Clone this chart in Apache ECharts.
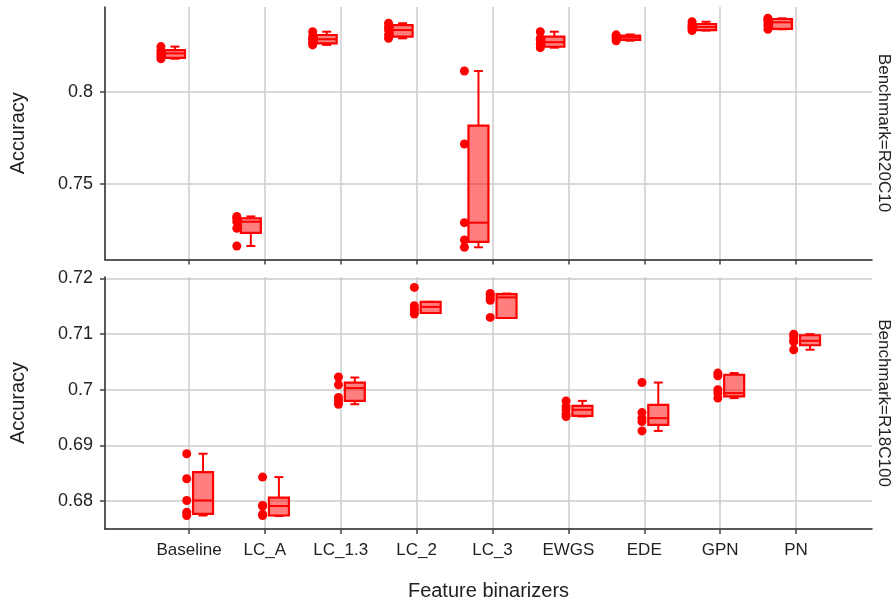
<!DOCTYPE html>
<html>
<head>
<meta charset="utf-8">
<script src="https://cdn.jsdelivr.net/npm/echarts@6/dist/echarts.min.js"></script>
<style>
html,body{margin:0;padding:0;background:#fff;}
#chart{width:896px;height:603px;}
</style>
</head>
<body>
<div id="chart"></div>
<script>
const categories = ['Baseline', 'LC_A', 'LC_1.3', 'LC_2', 'LC_3', 'EWGS', 'EDE', 'GPN', 'PN'];
const panelLabels = ['Benchmark=R20C10', 'Benchmark=R18C100'];
const xTitle = 'Feature binarizers';
const yTitle = 'Accuracy';
const yTicksTop = [0.75, 0.8];
const yTicksBottom = [0.68, 0.69, 0.7, 0.71, 0.72];

// R20C10 per-fold accuracies (points)
const r20c10Points = [
  [0.8246, 0.8225, 0.8209, 0.8195, 0.8180],
  [0.7322, 0.7310, 0.7293, 0.7257, 0.7161],
  [0.8327, 0.8300, 0.8286, 0.8270, 0.8255],
  [0.8373, 0.8352, 0.8336, 0.8310, 0.8291],
  [0.8113, 0.7716, 0.7288, 0.7194, 0.7154],
  [0.8327, 0.8290, 0.8282, 0.8260, 0.8240],
  [0.8310, 0.8302, 0.8296, 0.8287, 0.8278],
  [0.8381, 0.8365, 0.8355, 0.8345, 0.8333],
  [0.8400, 0.8392, 0.8380, 0.8362, 0.8340]
];
// R20C10 box stats: [min, q1, median, q3, max]
const r20c10Box = [
  [0.8180, 0.8185, 0.8209, 0.8227, 0.8246],
  [0.7161, 0.7233, 0.7293, 0.7312, 0.7322],
  [0.8255, 0.8264, 0.8286, 0.8309, 0.8327],
  [0.8291, 0.8300, 0.8336, 0.8363, 0.8373],
  [0.7154, 0.7184, 0.7288, 0.7816, 0.8113],
  [0.8240, 0.8245, 0.8270, 0.8300, 0.8327],
  [0.8278, 0.8283, 0.8296, 0.8306, 0.8312],
  [0.8333, 0.8336, 0.8353, 0.8369, 0.8381],
  [0.8340, 0.8342, 0.8378, 0.8396, 0.8400]
];
// R18C100 per-fold accuracies (points)
const r18c100Points = [
  [0.6885, 0.6840, 0.6801, 0.6780, 0.6774],
  [0.6843, 0.6792, 0.6791, 0.6776, 0.6774],
  [0.7023, 0.7009, 0.6986, 0.6980, 0.6974],
  [0.7184, 0.7151, 0.7145, 0.7142, 0.7136],
  [0.7173, 0.7171, 0.7166, 0.7161, 0.7130],
  [0.6980, 0.6970, 0.6964, 0.6956, 0.6952],
  [0.7013, 0.6959, 0.6949, 0.6943, 0.6926],
  [0.7030, 0.7025, 0.7000, 0.6994, 0.6985],
  [0.7100, 0.7096, 0.7089, 0.7086, 0.7072]
];
// R18C100 box stats: [min, q1, median, q3, max]
const r18c100Box = [
  [0.6774, 0.6777, 0.6801, 0.6852, 0.6885],
  [0.6773, 0.6774, 0.6791, 0.6806, 0.6843],
  [0.6974, 0.6980, 0.7003, 0.7013, 0.7022],
  [0.7138, 0.7138, 0.7149, 0.7158, 0.7158],
  [0.7129, 0.7129, 0.7166, 0.7172, 0.7173],
  [0.6952, 0.6953, 0.6964, 0.6971, 0.6980],
  [0.6926, 0.6937, 0.6949, 0.6973, 0.7013],
  [0.6985, 0.6988, 0.6994, 0.7027, 0.7030],
  [0.7072, 0.7080, 0.7088, 0.7098, 0.7100]
];

const FONT = "'Liberation Sans', Arial, sans-serif";
const TXT = '#222';
const RED = '#ff0000';
const catIdx = categories.map((c, i) => i);

// layout offsets (in category units) of points and boxes, per panel
const layoutTop = { pt: -0.37, box: -0.185 };
const layoutBottom = { pt: -0.03, box: 0.185 };

function pointsData(arr, off) {
  const out = [];
  arr.forEach((vals, i) => vals.forEach(v => out.push([i + off, v])));
  return out;
}
function boxData(arr, off) {
  return arr.map((s, i) => [i + off].concat(s));
}

function renderBox(params, api) {
  const x = api.value(0);
  const pMin = api.coord([x, api.value(1)]);
  const pQ1 = api.coord([x, api.value(2)]);
  const pMed = api.coord([x, api.value(3)]);
  const pQ3 = api.coord([x, api.value(4)]);
  const pMax = api.coord([x, api.value(5)]);
  const cx = pMed[0];
  const half = 10, cap = 4.5;
  const ls = { stroke: RED, lineWidth: 2 };
  return {
    type: 'group',
    children: [
      { type: 'line', shape: { x1: cx, y1: pMin[1], x2: cx, y2: pQ1[1] }, style: ls },
      { type: 'line', shape: { x1: cx, y1: pQ3[1], x2: cx, y2: pMax[1] }, style: ls },
      { type: 'line', shape: { x1: cx - cap, y1: pMin[1], x2: cx + cap, y2: pMin[1] }, style: ls },
      { type: 'line', shape: { x1: cx - cap, y1: pMax[1], x2: cx + cap, y2: pMax[1] }, style: ls },
      { type: 'rect', shape: { x: cx - half, y: pQ3[1], width: 2 * half, height: pQ1[1] - pQ3[1] },
        style: { fill: 'rgba(255,0,0,0.5)', stroke: RED, lineWidth: 2.2 } },
      { type: 'line', shape: { x1: cx - half, y1: pMed[1], x2: cx + half, y2: pMed[1] }, style: ls }
    ]
  };
}

// pixel geometry: category centers at 189 .. 796, plot from 105 to 872
const X0 = 189, STEP = (796 - 189) / 8;
const xMin = (105 - X0) / STEP, xMax = (872 - X0) / STEP;

function xAxisCfg(gridIndex, showLabels) {
  return {
    type: 'value', gridIndex, min: xMin, max: xMax,
    axisLine: { show: true, onZero: false, lineStyle: { color: '#222', width: 1.5 } },
    axisTick: { show: true, customValues: catIdx, length: 5, lineStyle: { color: '#444', width: 1.5 } },
    axisLabel: {
      show: showLabels, customValues: catIdx, margin: 13,
      formatter: v => categories[Math.round(v)] || '',
      fontFamily: FONT, fontSize: 17, color: TXT
    },
    splitLine: { show: true, lineStyle: { color: '#cccccc', width: 1.5 } },
    name: showLabels ? xTitle : '', nameLocation: 'middle', nameGap: 52,
    nameTextStyle: { fontFamily: FONT, fontSize: 20, color: TXT }
  };
}
function yAxisCfg(gridIndex, min, max, ticks) {
  return {
    type: 'value', gridIndex, min, max,
    axisLine: { show: true, onZero: false, lineStyle: { color: '#222', width: 1.5 } },
    axisTick: { show: true, customValues: ticks, length: 5, lineStyle: { color: '#444', width: 1.5 } },
    axisLabel: { customValues: ticks, margin: 12, fontFamily: FONT, fontSize: 18, color: TXT },
    splitLine: { show: true, lineStyle: { color: '#cccccc', width: 1.5 } },
    name: yTitle, nameLocation: 'middle', nameGap: 77,
    nameTextStyle: { fontFamily: FONT, fontSize: 20, color: TXT }
  };
}

const chart = echarts.init(document.getElementById('chart'), null, { renderer: 'canvas' });
chart.setOption({
  backgroundColor: '#fff',
  animation: false,
  grid: [
    { left: 105, right: 24, top: 7, height: 252.5, outerBoundsMode: 'none' },
    { left: 105, right: 24, top: 277, height: 252, outerBoundsMode: 'none' }
  ],
  xAxis: [xAxisCfg(0, false), xAxisCfg(1, true)],
  yAxis: [
    yAxisCfg(0, 0.70876, 0.84614, yTicksTop),
    yAxisCfg(1, 0.67497, 0.72027, yTicksBottom)
  ],
  graphic: [
    { type: 'text', x: 884, y: 133, rotation: -Math.PI / 2,
      style: { text: panelLabels[0], font: '17px ' + FONT, fill: TXT, align: 'center', verticalAlign: 'middle' } },
    { type: 'text', x: 884, y: 403, rotation: -Math.PI / 2,
      style: { text: panelLabels[1], font: '17px ' + FONT, fill: TXT, align: 'center', verticalAlign: 'middle' } }
  ],
  series: [
    { type: 'custom', xAxisIndex: 0, yAxisIndex: 0, renderItem: renderBox,
      encode: { x: 0, y: [1, 2, 3, 4, 5] }, data: boxData(r20c10Box, layoutTop.box), clip: false },
    { type: 'scatter', xAxisIndex: 0, yAxisIndex: 0, symbolSize: 9,
      itemStyle: { color: RED, opacity: 1 }, data: pointsData(r20c10Points, layoutTop.pt) },
    { type: 'custom', xAxisIndex: 1, yAxisIndex: 1, renderItem: renderBox,
      encode: { x: 0, y: [1, 2, 3, 4, 5] }, data: boxData(r18c100Box, layoutBottom.box), clip: false },
    { type: 'scatter', xAxisIndex: 1, yAxisIndex: 1, symbolSize: 9,
      itemStyle: { color: RED, opacity: 1 }, data: pointsData(r18c100Points, layoutBottom.pt) }
  ]
});
</script>
</body>
</html>
